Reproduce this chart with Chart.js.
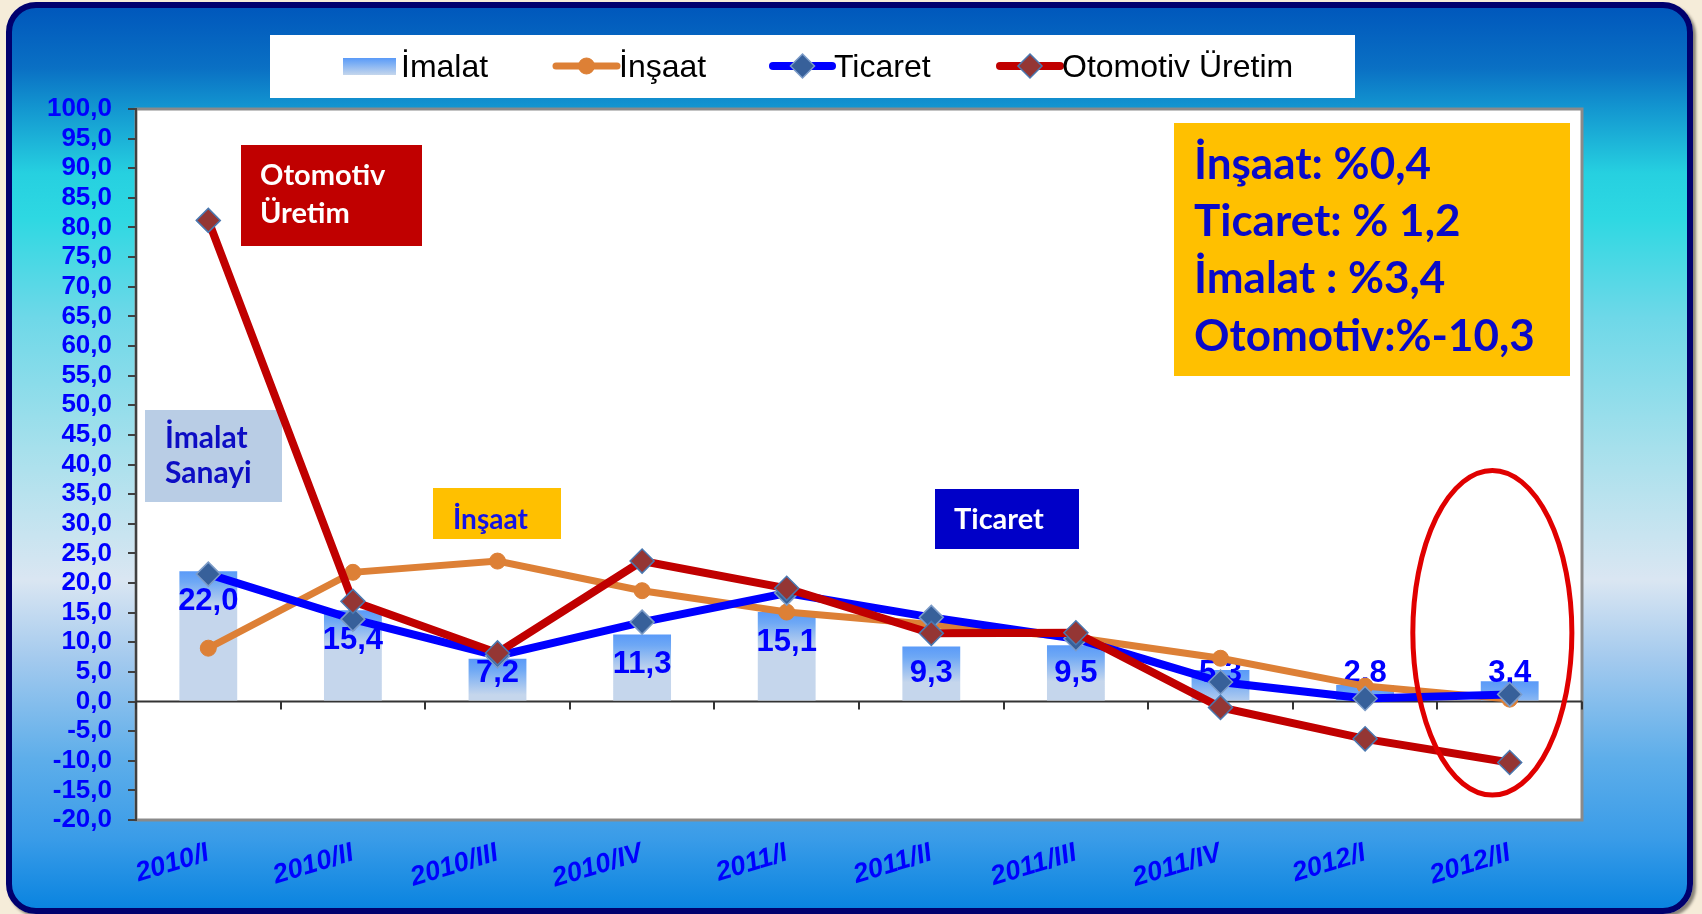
<!DOCTYPE html>
<html>
<head>
<meta charset="utf-8">
<script src="https://cdn.jsdelivr.net/npm/chart.js@4.4.1/dist/chart.umd.min.js"></script>
<style>
html, body { margin: 0; padding: 0; width: 1702px; height: 914px; overflow: hidden; background: #f5ecd9; }
#frame {
    position: absolute; left: 6px; top: 2px; width: 1687px; height: 912px;
    box-sizing: border-box; border: 6px solid #00006e; border-radius: 30px;
    box-shadow: 3px 3px 3px rgba(0,0,0,0.45);
    background: linear-gradient(to bottom,
        #0058bc 0px, #0a70c4 60px, #1396d0 100px, #26d0e0 165px, #2ed8e2 210px,
        #6ed8e8 310px, #a6e0ec 440px, #dae6f2 572px, #a4caee 650px,
        #5eaeea 750px, #3a9ce8 830px, #0a84e0 900px);
}
#wrap { position: absolute; left: 0; top: 0; width: 1702px; height: 914px; }
</style>
</head>
<body>
<div id="frame"></div>
<div id="wrap"><canvas id="myChart" width="1702" height="914"></canvas></div>
<script>
const categories = ['2010/I', '2010/II', '2010/III', '2010/IV', '2011/I', '2011/II', '2011/III', '2011/IV', '2012/I', '2012/II'];
const imalat   = [22.0, 15.4, 7.2, 11.3, 15.1, 9.3, 9.5, 5.3, 2.8, 3.4];
const insaat   = [9.0, 21.8, 23.7, 18.7, 15.1, 13.0, 10.8, 7.3, 2.6, 0.4];
const ticaret  = [21.5, 13.9, 7.7, 13.4, 18.3, 14.2, 10.6, 3.3, 0.5, 1.2];
const otomotiv = [81.2, 16.9, 8.2, 23.7, 19.1, 11.5, 11.6, -1.0, -6.3, -10.3];
const seriesNames = ['İmalat', 'İnşaat', 'Ticaret', 'Otomotiv Üretim'];
const yMin = -20, yMax = 100, yStep = 5;
const summaryLines = ['İnşaat: %0,4', 'Ticaret: % 1,2', 'İmalat : %3,4', 'Otomotiv:%-10,3'];

const fmt = v => v.toFixed(1).replace('.', ',');

function barGradient(ctx) {
    const chart = ctx.chart;
    if (!chart.chartArea || ctx.type !== 'data') return '#c5d6ec';
    const top = chart.scales.y.getPixelForValue(ctx.raw);
    const g = chart.ctx.createLinearGradient(0, top, 0, top + 36);
    g.addColorStop(0, '#5a9af8');
    g.addColorStop(0.3, '#6ea8f5');
    g.addColorStop(1, '#c5d6ec');
    return g;
}

// text boxes laid over the plot
const boxes = [
    { x: 241, y: 145, w: 181, h: 101, fill: '#c00000', color: '#ffffff', size: 29, tx: 260, lines: ['Otomotiv', 'Üretim'], base: [185, 223] },
    { x: 145, y: 410, w: 137, h: 92, fill: '#b9cde5', color: '#0d0dc4', size: 30, tx: 165, lines: ['İmalat', 'Sanayi'], base: [448, 483] },
    { x: 433, y: 488, w: 128, h: 51, fill: '#ffc000', color: '#1414e6', size: 28, tx: 453, lines: ['İnşaat'], base: [529] },
    { x: 935, y: 489, w: 144, h: 60, fill: '#0000c8', color: '#ffffff', size: 29, tx: 954, lines: ['Ticaret'], base: [529] },
    { x: 1174, y: 123, w: 396, h: 253, fill: '#ffc000', color: '#0a0ac8', size: 44, tx: 1194, lines: summaryLines, base: [179, 236, 293, 351] }
];

const ring = { index: 9, dx: -0.12, value: 11.6, rx: 0.55, ry: 27.4 };

const framePlugin = {
    id: 'framePlugin',
    beforeDraw(chart) {
        const { ctx, chartArea: a } = chart;
        ctx.save();
        ctx.fillStyle = '#ffffff';
        ctx.fillRect(a.left, a.top, a.right - a.left, a.bottom - a.top);
        ctx.strokeStyle = '#8a8a8a';
        ctx.lineWidth = 3;
        ctx.strokeRect(a.left, a.top, a.right - a.left, a.bottom - a.top);

        // legend
        ctx.fillStyle = '#ffffff';
        ctx.fillRect(270, 35, 1085, 63);
        const ds = chart.data.datasets;
        ctx.font = '32px "Liberation Sans", Arial, sans-serif';
        ctx.textBaseline = 'alphabetic';
        const ly = 66;
        // bar swatch
        const g = ctx.createLinearGradient(0, 58, 0, 75);
        g.addColorStop(0, '#5a9af8'); g.addColorStop(0.35, '#7eb0f4'); g.addColorStop(1, '#c5d6ec');
        ctx.fillStyle = g;
        ctx.fillRect(343, 58, 53, 17);
        ctx.fillStyle = '#000';
        ctx.fillText(ds[0].label, 401, 77);
        const items = [[1, 556, 617, 619], [2, 773, 832, 834], [3, 1000, 1060, 1062]];
        items.forEach(([i, x0, x1, tx]) => {
            const d = ds[i];
            ctx.strokeStyle = d.borderColor;
            ctx.lineWidth = d.borderWidth;
            ctx.lineCap = 'round';
            ctx.beginPath(); ctx.moveTo(x0, ly); ctx.lineTo(x1, ly); ctx.stroke();
            const cx = (x0 + x1) / 2;
            ctx.fillStyle = d.pointBackgroundColor;
            ctx.strokeStyle = d.pointBorderColor;
            ctx.lineWidth = d.pointBorderWidth;
            ctx.beginPath();
            if (d.pointStyle === 'circle') {
                ctx.arc(cx, ly, d.pointRadius, 0, Math.PI * 2);
            } else {
                const r = d.pointRadius;
                ctx.moveTo(cx, ly - r); ctx.lineTo(cx + r, ly); ctx.lineTo(cx, ly + r); ctx.lineTo(cx - r, ly); ctx.closePath();
            }
            ctx.fill(); ctx.stroke();
            ctx.fillStyle = '#000';
            ctx.fillText(d.label, tx, 77);
        });
        ctx.restore();
    },
    beforeDatasetsDraw(chart) {
        const { ctx, chartArea: a, scales: { x, y } } = chart;
        ctx.save();
        // zero line with category ticks
        const y0 = y.getPixelForValue(0);
        ctx.strokeStyle = '#333';
        ctx.lineWidth = 2;
        ctx.beginPath();
        ctx.moveTo(a.left, y0); ctx.lineTo(a.right, y0);
        const cw = x.getPixelForValue(1) - x.getPixelForValue(0);
        for (let i = 0; i <= categories.length; i++) {
            const px = Math.round(x.getPixelForValue(0) - cw / 2 + i * cw);
            ctx.moveTo(px, y0); ctx.lineTo(px, y0 + 8);
        }
        ctx.stroke();
        // annotation boxes
        boxes.forEach(b => {
            ctx.fillStyle = b.fill;
            ctx.fillRect(b.x, b.y, b.w, b.h);
            ctx.fillStyle = b.color;
            ctx.font = 'bold ' + b.size + 'px Lato, "Open Sans", sans-serif';
            ctx.textBaseline = 'alphabetic';
            b.lines.forEach((t, k) => ctx.fillText(t, b.tx, b.base[k]));
        });
        ctx.restore();
    },
    afterDatasetDraw(chart, args) {
        if (args.index !== 0) return;
        const { ctx, scales: { x, y } } = chart;
        const y0 = y.getPixelForValue(0);
        ctx.save();
        ctx.font = 'bold 31px "Liberation Sans", Arial, sans-serif';
        ctx.fillStyle = '#0000ff';
        ctx.textAlign = 'center';
        ctx.textBaseline = 'middle';
        imalat.forEach((v, i) => {
            const top = y.getPixelForValue(v);
            const ly = Math.min(top + 30, y0 - 28);
            ctx.fillText(fmt(v), x.getPixelForValue(i), ly);
        });
        ctx.restore();
    },
    afterDraw(chart) {
        const { ctx, scales: { x, y } } = chart;
        const cw = x.getPixelForValue(1) - x.getPixelForValue(0);
        const cx = x.getPixelForValue(ring.index) + ring.dx * cw;
        const cy = y.getPixelForValue(ring.value);
        const ry = y.getPixelForValue(0) - y.getPixelForValue(ring.ry);
        ctx.save();
        ctx.strokeStyle = '#e00000';
        ctx.lineWidth = 5;
        ctx.beginPath();
        ctx.ellipse(cx, cy, ring.rx * cw, ry, 0, 0, Math.PI * 2);
        ctx.stroke();
        ctx.restore();
    }
};

const ctx = document.getElementById('myChart').getContext('2d');
const myChart = new Chart(ctx, {
    type: 'bar',
    data: {
        labels: categories,
        datasets: [
            {
                type: 'bar', label: seriesNames[0], data: imalat, order: 4,
                backgroundColor: barGradient, borderWidth: 0,
                barPercentage: 0.4, categoryPercentage: 1
            },
            {
                type: 'line', label: seriesNames[1], data: insaat, order: 3,
                borderColor: '#dd8036', borderWidth: 7, tension: 0,
                pointStyle: 'circle', pointRadius: 8, pointBackgroundColor: '#dd8036',
                pointBorderColor: '#dd8036', pointBorderWidth: 1
            },
            {
                type: 'line', label: seriesNames[2], data: ticaret, order: 2,
                borderColor: '#0000ff', borderWidth: 8, tension: 0,
                pointStyle: 'rectRot', pointRadius: 12, pointBackgroundColor: '#37609a',
                pointBorderColor: '#7c9cc8', pointBorderWidth: 1.5
            },
            {
                type: 'line', label: seriesNames[3], data: otomotiv, order: 1,
                borderColor: '#c00000', borderWidth: 8, tension: 0,
                pointStyle: 'rectRot', pointRadius: 12, pointBackgroundColor: '#943634',
                pointBorderColor: '#4a78b0', pointBorderWidth: 1.5
            }
        ]
    },
    options: {
        responsive: false,
        animation: false,
        devicePixelRatio: 1,
        layout: { padding: { left: 0, top: 109, right: 120, bottom: 0 } },
        plugins: { legend: { display: false }, tooltip: { enabled: false } },
        scales: {
            x: {
                grid: { display: false, drawTicks: false },
                border: { display: false },
                ticks: {
                    autoSkip: false, minRotation: 17, maxRotation: 17, padding: 17,
                    color: '#0000ff',
                    font: { family: '"Liberation Sans", Arial, sans-serif', size: 27, weight: 'bold', style: 'italic' }
                },
                afterFit(scale) { scale.height = 94; }
            },
            y: {
                min: yMin, max: yMax,
                grid: { drawOnChartArea: false, drawTicks: true, tickLength: 8, color: '#404040', lineWidth: 2 },
                border: { display: true, color: '#404040', width: 2 },
                ticks: {
                    stepSize: yStep, autoSkip: false, padding: 16,
                    color: '#0000ff',
                    font: { family: '"Liberation Sans", Arial, sans-serif', size: 26, weight: 'bold' },
                    callback: v => fmt(v)
                },
                afterFit(scale) { scale.width = 136; }
            }
        }
    },
    plugins: [framePlugin]
});
</script>
</body>
</html>
